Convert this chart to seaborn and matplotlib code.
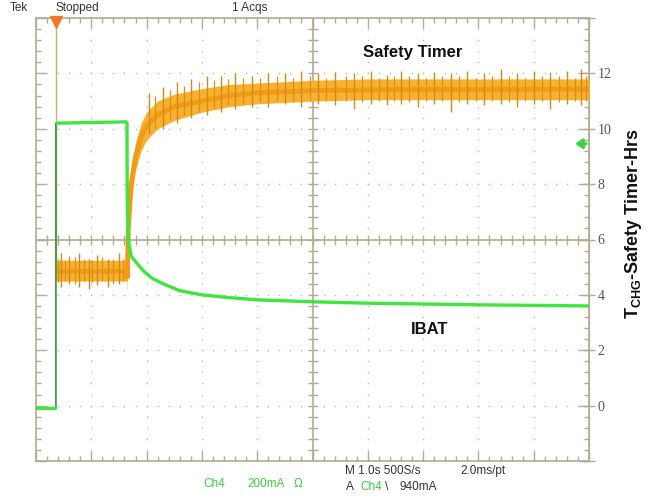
import numpy as np
import matplotlib
matplotlib.use("Agg")
import matplotlib.pyplot as plt
from matplotlib.collections import LineCollection
import seaborn as sns

sns.set_style("white")
plt.rcParams["font.family"] = ["Liberation Sans", "DejaVu Sans"]
plt.rcParams["mathtext.fontset"] = "custom"
plt.rcParams["mathtext.bf"] = "Liberation Sans:bold"
plt.rcParams["mathtext.rm"] = "Liberation Sans"

# ---- trace data (time in s, value on the right-hand hours scale) ----
ibat_t = [0.0, 0.36, 0.36, 1.645, 1.65, 1.67, 1.72, 1.8, 1.95, 2.1, 2.3, 2.6,
          3.0, 3.5, 4.0, 5.0, 6.0, 7.0, 8.0, 9.0, 10.0]
ibat_v = [-0.1, -0.1, 10.2, 10.25, 7.5, 6.0, 5.4, 5.2, 4.85, 4.6, 4.4, 4.15,
          4.0, 3.9, 3.82, 3.75, 3.7, 3.67, 3.64, 3.62, 3.6]

timer_t = [0.0, 0.36, 0.36, 1.645, 1.65, 1.67, 1.72, 1.8, 1.9, 2.0, 2.2, 2.5,
           3.0, 3.5, 4.0, 5.0, 6.0, 7.0, 8.0, 9.0, 10.0]
timer_v = [14.6, 14.6, 4.85, 4.85, 4.6, 6.4, 8.0, 9.0, 9.7, 10.1, 10.5, 10.8,
           11.0, 11.2, 11.3, 11.38, 11.4, 11.42, 11.42, 11.43, 11.43]

timer_band_t = [0.36, 1.645, 1.65, 1.67, 1.72, 1.8, 1.9, 2.0, 2.2, 2.5, 3.0,
                3.5, 4.0, 5.0, 6.0, 7.0, 8.0, 9.0, 10.0]
timer_band_lo = [4.5, 4.5, 4.1, 5.8, 7.4, 8.5, 9.2, 9.6, 10.0, 10.3, 10.6,
                 10.8, 10.9, 11.0, 11.05, 11.05, 11.05, 11.05, 11.05]
timer_band_hi = [5.25, 5.25, 4.9, 7.0, 8.5, 9.5, 10.2, 10.6, 11.0, 11.25, 11.45,
                 11.6, 11.65, 11.75, 11.8, 11.8, 11.8, 11.8, 11.8]

# large noise spikes on the timer trace
spike_t = [0.45, 0.6, 0.78, 0.95, 1.1, 1.3, 1.5,
           2.05, 2.3, 2.55, 2.8, 3.1, 3.35, 3.6, 3.9, 4.2, 4.5, 4.8, 5.1, 5.4,
           5.75, 6.05, 6.35, 6.6, 6.9, 7.2, 7.5, 7.8, 8.1, 8.4, 8.7, 9.0, 9.3,
           9.6, 9.85]
spike_lo = [4.3, 4.4, 4.3, 4.2, 4.35, 4.3, 4.4,
            9.8, 10.0, 10.2, 10.4, 10.5, 10.6, 10.7, 10.8, 10.8, 10.9, 10.8, 10.9,
            10.85, 10.7, 10.9, 10.85, 10.9, 10.8, 10.9, 10.6, 10.9, 10.85, 10.9,
            10.8, 10.9, 10.7, 10.9, 10.85]
spike_hi = [5.5, 5.4, 5.5, 5.3, 5.45, 5.3, 5.5,
            11.3, 11.5, 11.7, 11.8, 11.9, 11.9, 12.0, 11.9, 12.0, 12.0, 12.1, 12.0,
            12.05, 12.0, 12.1, 11.95, 12.1, 12.0, 12.05, 12.0, 12.1, 12.0, 12.15,
            12.0, 12.1, 12.05, 12.1, 12.15]

# smaller noise spikes between the large ones
small_t = [0.4, 0.52, 0.7, 0.87, 1.02, 1.2, 1.4, 1.58,
           2.15, 2.42, 2.68, 2.95, 3.22, 3.48, 3.75, 4.05, 4.35, 4.65, 4.95,
           5.25, 5.6, 5.9, 6.2, 6.48, 6.75, 7.05, 7.35, 7.65, 7.95, 8.25, 8.55,
           8.85, 9.15, 9.45, 9.75, 9.95]
small_lo = [4.45, 4.5, 4.4, 4.5, 4.45, 4.5, 4.4, 4.5,
            10.0, 10.3, 10.5, 10.6, 10.75, 10.85, 10.9, 10.95, 11.0, 10.95, 11.0,
            11.0, 11.0, 10.95, 11.0, 11.0, 10.95, 11.0, 11.0, 10.95, 11.0, 11.0,
            10.95, 11.0, 11.0, 10.95, 11.0, 11.0]
small_hi = [5.3, 5.25, 5.35, 5.3, 5.25, 5.35, 5.3, 5.3,
            11.2, 11.4, 11.55, 11.7, 11.75, 11.8, 11.85, 11.85, 11.9, 11.85,
            11.9, 11.85, 11.9, 11.9, 11.85, 11.9, 11.9, 11.85, 11.9, 11.9, 11.85,
            11.9, 11.9, 11.85, 11.9, 11.9, 11.85, 11.9]

hour_ticks = [-2, 0, 2, 4, 6, 8, 10, 12, 14]
hour_labels = ["", "0", "2", "4", "6", "8", "10", "12", ""]

trigger_t = 0.36
trigger_level = 9.46

FRAME = "#b3ab90"
GREEN = "#3fe63f"
GREEN_DARK = "#2f9a2f"
ORANGE = "#f8b030"
ORANGE_CORE = "#f09a18"
ORANGE_DARK = "#cf8c14"
TAN = "#c9ad78"
TEXT_GREEN = "#3ec83e"

W, H = 655, 496
fig = plt.figure(figsize=(W / 100, H / 100), dpi=100)
ax = fig.add_axes([36 / W, 1 - 461 / H, 553 / W, 443 / H])
ax.set_xlim(0, 10)
ax.set_ylim(-2, 14)

# dotted graticule
gx, gy = [], []
for xm in range(1, 10):
    if xm == 5:
        continue
    for yv in np.arange(-2, 14.01, 0.4):
        gx.append(xm); gy.append(yv)
for ym in range(0, 13, 2):
    if ym == 6:
        continue
    for xv in np.arange(0, 10.01, 0.2):
        gx.append(xv); gy.append(ym)
ax.scatter(gx, gy, s=1.3, color="#bdbdbd", linewidths=0, zorder=1)

# center cross with fine ticks
ax.axvline(5, color=FRAME, lw=1.2, zorder=1)
ax.axhline(6, color=FRAME, lw=1.2, zorder=1)
ax.plot(np.arange(0.2, 10, 0.2), np.full(49, 6.0), ls="none", marker="|",
        ms=7, mew=1.0, color=FRAME, zorder=1)
ax.plot(np.full(39, 5.0), np.arange(-1.6, 14, 0.4), ls="none", marker="_",
        ms=7, mew=1.0, color=FRAME, zorder=1)

# safety timer trace: pre-trigger edge, noise band, dense core, spikes
sns.lineplot(x=timer_t[:3], y=timer_v[:3], ax=ax, color=TAN, lw=1.0,
             estimator=None, sort=False, zorder=2)
ax.fill_between(timer_band_t, timer_band_lo, timer_band_hi, color=ORANGE,
                lw=0, zorder=3)
sns.lineplot(x=timer_t[2:], y=timer_v[2:], ax=ax, color=ORANGE_CORE, lw=3.5,
             estimator=None, sort=False, zorder=3, solid_capstyle="butt",
             solid_joinstyle="miter")
ax.vlines(small_t, small_lo, small_hi, color="#e08f10", lw=0.9, zorder=4)
ax.vlines(spike_t, spike_lo, spike_hi, color=ORANGE_DARK, lw=1.0, zorder=4)

# IBAT trace: thin edges, bright noisy level
sns.lineplot(x=ibat_t, y=ibat_v, ax=ax, color=GREEN_DARK, lw=1.2,
             estimator=None, sort=False, zorder=5)
segs = [[(ibat_t[i], ibat_v[i]), (ibat_t[i + 1], ibat_v[i + 1])]
        for i in range(len(ibat_t) - 1) if ibat_t[i + 1] > ibat_t[i]]
ax.add_collection(LineCollection(segs, colors=GREEN, linewidths=2.4,
                                 capstyle="butt", zorder=6))

# trigger position and level markers
ax.plot([trigger_t], [14 - 0.13], marker="v", ms=8, color="#f07a2a",
        clip_on=False, zorder=8)
ax.annotate("", xy=(9.7, trigger_level), xytext=(10.0, trigger_level),
            arrowprops=dict(arrowstyle="-|>,head_length=0.4,head_width=0.28",
                            color="#3cd43c", lw=2.2), zorder=8)

# frame and ticks
for sp in ax.spines.values():
    sp.set_color(FRAME)
    sp.set_linewidth(1.2)
ax.set_xticks(range(11))
ax.set_xticks(np.arange(0, 10.01, 0.2), minor=True)
ax.set_yticks(hour_ticks)
ax.set_yticks(np.arange(-2, 14.01, 0.4), minor=True)
ax.tick_params(which="both", direction="in", color=FRAME, top=True,
               right=True, left=True, bottom=True, labelbottom=False,
               labelleft=False, width=1.0)
ax.tick_params(which="major", length=7)
ax.tick_params(which="minor", length=3.5)

sec = ax.secondary_yaxis("right")
sec.set_yticks(hour_ticks)
sec.set_yticklabels(hour_labels, family="Liberation Serif", fontsize=10,
                    color="#555555")
sec.tick_params(direction="inout", length=8, color=FRAME, width=1.0, pad=2)
sec.spines["right"].set_color(FRAME)
sec.set_ylabel("")

ax.set_xlabel("")
ax.set_ylabel("")

# annotations inside the screen
def px(x, y):
    return x / W, 1 - y / H

fig.text(*px(363, 52), "Safety Timer", fontsize=12, fontweight="bold",
         va="center", ha="left", color="#111111")
fig.text(*px(411, 330), "IBAT", fontsize=12, fontweight="bold",
         va="center", ha="left", color="#111111")
fig.text(*px(634, 224), r"$\mathbf{T}_{\mathbf{CHG}}$-Safety Timer-Hrs",
         fontsize=13, fontweight="bold", rotation=90, va="center",
         ha="center", color="#111111")

# scope status readouts
fig.text(*px(10, 8), "Tek", fontsize=8.5, va="center", color="#333333")
fig.text(*px(55, 8), "Stopped", fontsize=8.5, va="center", color="#333333")
fig.text(*px(232, 8), "1 Acqs", fontsize=8.5, va="center", color="#333333")
fig.text(*px(203, 484), "Ch4", fontsize=8.5, va="center", color=TEXT_GREEN)
fig.text(*px(247, 484), "200mA", fontsize=8.5, va="center", color=TEXT_GREEN)
fig.text(*px(294, 484), "\u03a9", fontsize=8.5, va="center", color=TEXT_GREEN)
fig.text(*px(345, 471), "M 1.0s 500S/s", fontsize=8.5, va="center",
         color="#333333")
fig.text(*px(460, 471), "2.0ms/pt", fontsize=8.5, va="center",
         color="#333333")
fig.text(*px(346, 487), "A", fontsize=8.5, va="center", color="#333333")
fig.text(*px(360, 487), "Ch4", fontsize=8.5, va="center", color=TEXT_GREEN)
fig.text(*px(385, 487), "\\", fontsize=8.5, va="center", color="#333333")
fig.text(*px(400, 487), "940mA", fontsize=8.5, va="center", color="#333333")

fig.savefig("out.png", dpi=100, facecolor="white")
